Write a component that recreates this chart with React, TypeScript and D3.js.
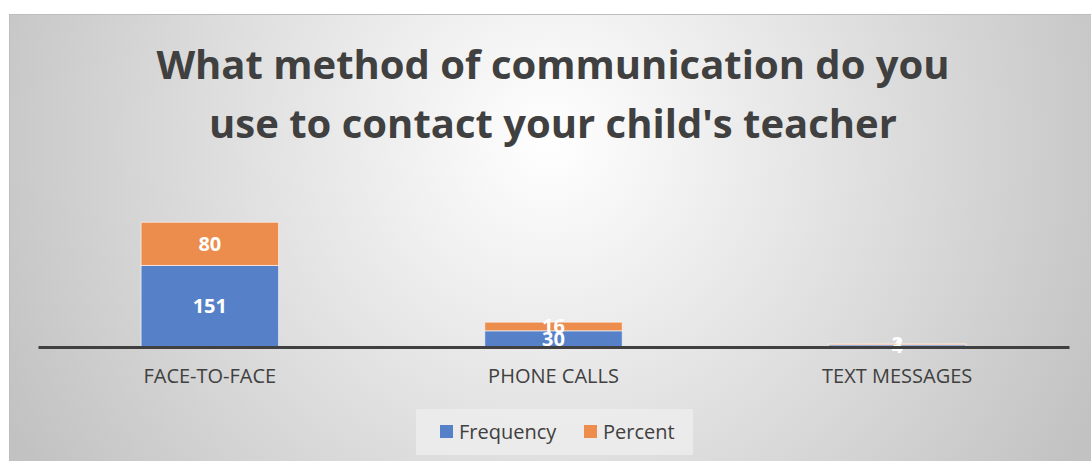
import { useEffect, useRef } from 'react';
import * as d3 from 'd3';

// chart data
const categories = ['FACE-TO-FACE', 'PHONE CALLS', 'TEXT MESSAGES'];
const frequency = [151, 30, 4];
const percent = [80, 16, 2];
const seriesNames = ['Frequency', 'Percent'];
const seriesColors = ['#5681c8', '#ed8d4d'];
const titleLines = ['What method of communication do you', "use to contact your child's teacher"];

const W = 1091;
const H = 461;
const FONT = "'Open Sans', 'Liberation Sans', sans-serif";

export default function App() {
  const ref = useRef<SVGSVGElement | null>(null);

  useEffect(() => {
    const svg = d3.select(ref.current);
    svg.selectAll('*').remove();

    const defs = svg.append('defs');
    const grad = defs
      .append('radialGradient')
      .attr('id', 'bg')
      .attr('gradientUnits', 'userSpaceOnUse')
      .attr('cx', 550)
      .attr('cy', 140)
      .attr('r', 610);
    grad.append('stop').attr('offset', '0%').attr('stop-color', '#ffffff');
    grad.append('stop').attr('offset', '100%').attr('stop-color', '#c2c2c2');

    // chart frame
    svg
      .append('rect')
      .attr('x', 9.5)
      .attr('y', 14.5)
      .attr('width', W - 9)
      .attr('height', H - 14)
      .attr('fill', 'url(#bg)')
      .attr('stroke', '#bdbdbd')
      .attr('stroke-width', 1);

    // title
    svg
      .append('g')
      .selectAll('text')
      .data(titleLines)
      .enter()
      .append('text')
      .attr('x', 553)
      .attr('y', (d, i) => 79 + i * 59)
      .attr('text-anchor', 'middle')
      .attr('font-family', FONT)
      .attr('font-weight', 700)
      .attr('font-size', 40)
      .attr('fill', '#404040')
      .text(d => d);

    const x = d3
      .scaleBand<string>()
      .domain(categories)
      .range([38, 1069])
      .paddingInner(0.6)
      .paddingOuter(0.3);

    const y = d3.scaleLinear().domain([0, 250]).range([347, 212]);

    const rows = categories.map((c, i) => ({ cat: c, Frequency: frequency[i], Percent: percent[i] }));
    const stack = d3.stack<any>().keys(seriesNames)(rows);

    const layers = svg
      .append('g')
      .selectAll('g')
      .data(stack)
      .enter()
      .append('g')
      .attr('fill', (d, i) => seriesColors[i]);

    layers
      .selectAll('rect')
      .data(d => d)
      .enter()
      .append('rect')
      .attr('x', d => x(d.data.cat)!)
      .attr('y', d => y(d[1]))
      .attr('width', x.bandwidth())
      .attr('height', d => y(d[0]) - y(d[1]))
      .attr('stroke', 'rgba(255,255,255,0.6)')
      .attr('stroke-width', 1);

    layers
      .selectAll('text')
      .data(d => d)
      .enter()
      .append('text')
      .attr('x', d => x(d.data.cat)! + x.bandwidth() / 2)
      .attr('y', d => (y(d[0]) + y(d[1])) / 2)
      .attr('dy', '0.35em')
      .attr('text-anchor', 'middle')
      .attr('font-family', FONT)
      .attr('font-weight', 700)
      .attr('font-size', 20)
      .attr('fill', '#ffffff')
      .text(d => d[1] - d[0]);

    // category axis
    const axis = svg
      .append('g')
      .attr('transform', `translate(0, ${y(0)})`)
      .call(d3.axisBottom(x).tickSize(0).tickPadding(22));
    axis.select('.domain').attr('stroke', '#404040').attr('stroke-width', 3);
    axis
      .selectAll('text')
      .attr('font-family', FONT)
      .attr('font-size', 20)
      .attr('fill', '#404040');

    // legend
    const lg = svg.append('g');
    lg.append('rect')
      .attr('x', 416)
      .attr('y', 409)
      .attr('width', 277)
      .attr('height', 46)
      .attr('fill', '#ededed')
      .attr('opacity', 0.8);
    const legendX = [440, 584];
    const items = lg
      .selectAll('g.item')
      .data(seriesNames)
      .enter()
      .append('g')
      .attr('class', 'item')
      .attr('transform', (d, i) => `translate(${legendX[i]}, 425)`);
    items
      .append('rect')
      .attr('width', 13)
      .attr('height', 13)
      .attr('fill', (d, i) => seriesColors[i]);
    items
      .append('text')
      .attr('x', 19)
      .attr('y', 14)
      .attr('font-family', FONT)
      .attr('font-size', 20)
      .attr('fill', '#404040')
      .text(d => d);
  }, []);

  return (
    <svg
      ref={ref}
      width={W}
      height={H}
      style={{ position: 'absolute', left: 0, top: 0, background: '#ffffff' }}
    ></svg>
  );
}
